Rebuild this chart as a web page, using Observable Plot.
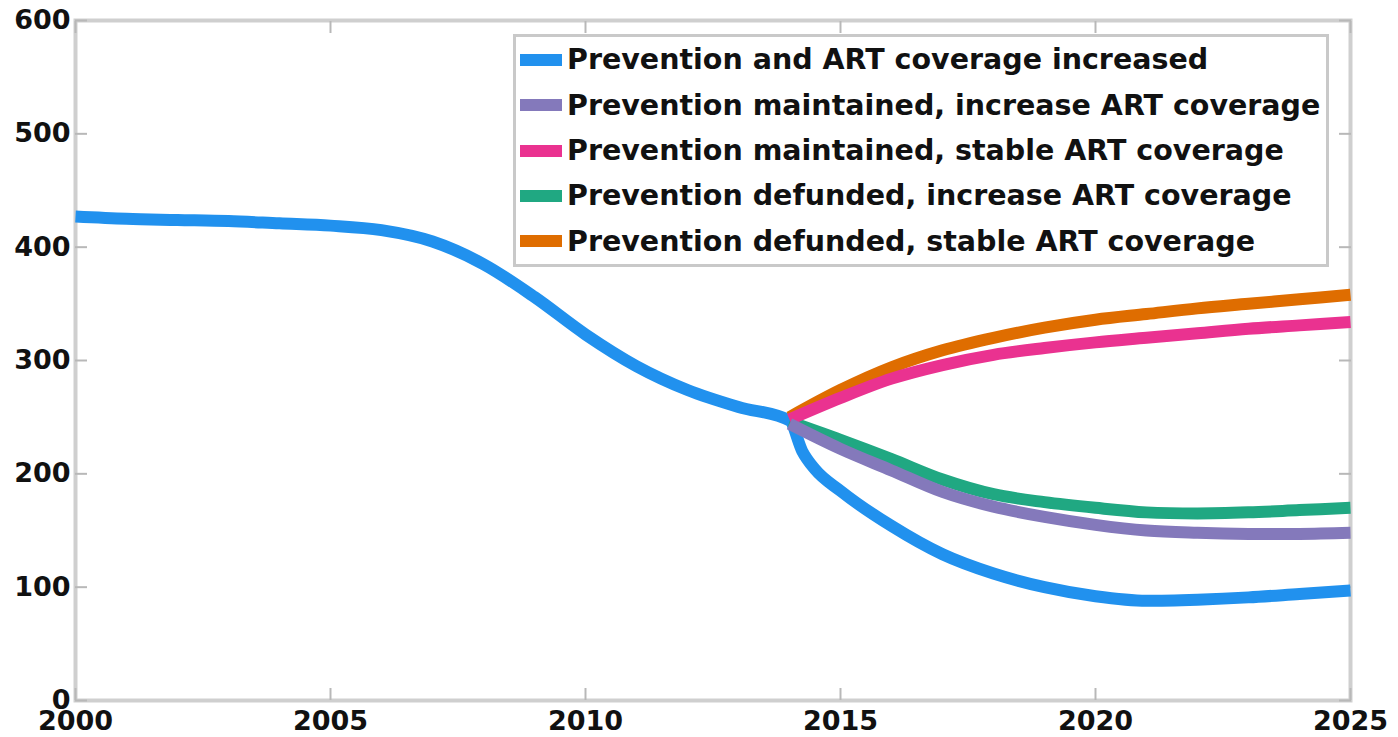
<!DOCTYPE html>
<html>
<head>
<meta charset="utf-8">
<script src="https://cdn.jsdelivr.net/npm/d3@7"></script>
<script src="https://cdn.jsdelivr.net/npm/@observablehq/plot@0.6"></script>
<style>
  body { margin: 0; background: #fff; }
  #wrap { position: relative; width: 1398px; height: 737px; }
  #legend {
    position: absolute; left: 513px; top: 34px; width: 816px; height: 233px;
    box-sizing: border-box; border: 3px solid #c9c9c9; background: #fff;
    font: bold 28.5px "DejaVu Sans", sans-serif; color: #111;
    display: flex; flex-direction: column; justify-content: flex-start; padding: 0 0 0 4px;
  }
  .row { display: flex; align-items: center; height: 46.3px; white-space: nowrap; }
  .sw { width: 42px; height: 12px; margin-right: 5px; flex: none; }
</style>
</head>
<body>
<div id="wrap"><div id="chart"></div><div id="legend"></div></div>
<script>
// ---- data ----
const scenarioNames = [
  "Prevention and ART coverage increased",
  "Prevention maintained, increase ART coverage",
  "Prevention maintained, stable ART coverage",
  "Prevention defunded, increase ART coverage",
  "Prevention defunded, stable ART coverage"
];
const scenarioColors = ["#2191ee", "#8479bb", "#ea3290", "#20a882", "#df6d00"];

const historyYears = [2000, 2001, 2002, 2003, 2004, 2005, 2006, 2007, 2008, 2009, 2010, 2011, 2012, 2013, 2014];
const historyValues = [427, 425, 424, 423, 421, 419, 415, 405, 385, 356, 323, 295, 274, 259, 247];

const blueYears = [2014, 2014.25, 2014.5, 2015, 2016, 2017, 2018, 2019, 2020, 2021, 2022, 2023, 2024, 2025];
const blueValues = [247, 220, 204, 185, 154, 129, 112, 100, 92, 88, 89, 91, 94, 97];

const projYears = [2014, 2015, 2016, 2017, 2018, 2019, 2020, 2021, 2022, 2023, 2024, 2025];
const purpleValues = [244, 222, 203, 184, 171, 162, 155, 150, 148, 147, 147, 148];
const pinkValues   = [248, 267, 284, 296, 305, 311, 316, 320, 324, 328, 331, 334];
const greenValues  = [246, 230, 213, 195, 182, 175, 170, 166, 165, 166, 168, 170];
const orangeValues = [250, 274, 294, 309, 320, 329, 336, 341, 346, 350, 354, 358];

const xTicks = [2000, 2005, 2010, 2015, 2020, 2025];
const yTicks = [0, 100, 200, 300, 400, 500, 600];

// ---- tables ----
const mk = (years, vals, s) => years.map((x, i) => ({x, y: vals[i], s}));
const blueData = mk(historyYears, historyValues, 0).concat(mk(blueYears.slice(1), blueValues.slice(1), 0));
const series = [
  {data: mk(projYears, orangeValues, 4), c: scenarioColors[4]},
  {data: mk(projYears, greenValues, 3), c: scenarioColors[3]},
  {data: mk(projYears, pinkValues, 2), c: scenarioColors[2]},
  {data: mk(projYears, purpleValues, 1), c: scenarioColors[1]}
];

const font = {fontFamily: "DejaVu Sans, sans-serif", fontWeight: "bold", fontSize: 27};
const tickColor = "#b8b8b8";

const chart = Plot.plot({
  width: 1398, height: 737,
  marginLeft: 75, marginRight: 48, marginTop: 20, marginBottom: 37,
  style: {background: "#fff", color: "#111", fontFamily: "DejaVu Sans, sans-serif"},
  x: {domain: [2000, 2025], label: null},
  y: {domain: [0, 600], label: null},
  marks: [
    Plot.frame({stroke: "#cfcfcf", strokeWidth: 4}),
    Plot.axisX({anchor: "bottom", ticks: xTicks, tickSize: -12, text: null, label: null, stroke: tickColor, strokeWidth: 2}),
    Plot.axisX({anchor: "top", ticks: xTicks, tickSize: -12, text: null, label: null, stroke: tickColor, strokeWidth: 2}),
    Plot.axisY({anchor: "left", ticks: yTicks, tickSize: -12, text: null, label: null, stroke: tickColor, strokeWidth: 2}),
    Plot.axisY({anchor: "right", ticks: yTicks, tickSize: -12, text: null, label: null, stroke: tickColor, strokeWidth: 2}),
    Plot.axisX({anchor: "bottom", ticks: xTicks, tickSize: 0, tickPadding: 10, tickFormat: d => String(d), label: null, ...font}),
    Plot.axisY({anchor: "left", ticks: yTicks, tickSize: 0, tickPadding: 5, label: null, ...font}),
    Plot.line(blueData, {x: "x", y: "y", stroke: scenarioColors[0], strokeWidth: 12, curve: "monotone-x", strokeLinecap: "butt"}),
    ...series.map(s => Plot.line(s.data, {x: "x", y: "y", stroke: s.c, strokeWidth: 12, curve: "catmull-rom", strokeLinecap: "butt"}))
  ]
});
document.getElementById("chart").appendChild(chart);

const legend = document.getElementById("legend");
scenarioNames.forEach((n, i) => {
  const row = document.createElement("div");
  row.className = "row";
  const sw = document.createElement("div");
  sw.className = "sw";
  sw.style.background = scenarioColors[i];
  const t = document.createElement("span");
  t.textContent = n;
  row.appendChild(sw); row.appendChild(t);
  legend.appendChild(row);
});
</script>
</body>
</html>
